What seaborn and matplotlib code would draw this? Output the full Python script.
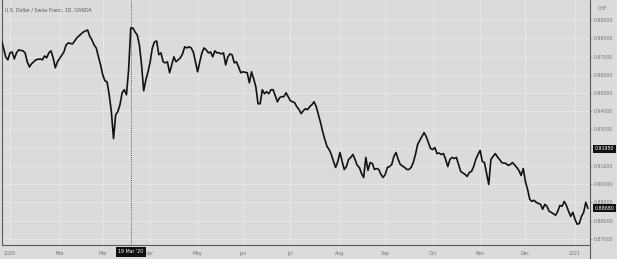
import numpy as np
import pandas as pd
import matplotlib
matplotlib.use("Agg")
import matplotlib.pyplot as plt
import seaborn as sns
from matplotlib.lines import Line2D

# ---------------- data (daily closes) ----------------
dates = [
    "2019-12-26", "2019-12-27", "2019-12-30", "2019-12-31",
    "2020-01-01", "2020-01-02", "2020-01-03", "2020-01-06", "2020-01-07", "2020-01-09",
    "2020-01-10", "2020-01-13", "2020-01-14", "2020-01-15", "2020-01-17", "2020-01-21",
    "2020-01-22", "2020-01-23", "2020-01-24", "2020-01-27", "2020-01-28", "2020-01-29",
    "2020-01-30", "2020-01-31",
    "2020-02-05", "2020-02-06", "2020-02-07", "2020-02-11", "2020-02-12", "2020-02-13",
    "2020-02-14", "2020-02-17", "2020-02-18", "2020-02-19", "2020-02-20", "2020-02-21",
    "2020-02-24", "2020-02-25", "2020-02-26", "2020-02-27", "2020-02-28",
    "2020-03-02", "2020-03-03", "2020-03-04", "2020-03-05", "2020-03-06", "2020-03-09",
    "2020-03-10", "2020-03-11", "2020-03-12", "2020-03-13", "2020-03-16", "2020-03-17",
    "2020-03-18", "2020-03-19", "2020-03-20", "2020-03-23", "2020-03-24", "2020-03-25",
    "2020-03-26", "2020-03-27", "2020-03-30", "2020-03-31",
    "2020-04-01", "2020-04-02", "2020-04-03", "2020-04-06", "2020-04-07", "2020-04-08",
    "2020-04-09", "2020-04-10", "2020-04-13", "2020-04-14", "2020-04-15", "2020-04-16",
    "2020-04-17", "2020-04-20", "2020-04-21", "2020-04-22", "2020-04-23", "2020-04-24",
    "2020-04-27", "2020-04-28", "2020-04-29", "2020-04-30",
    "2020-05-01", "2020-05-04", "2020-05-05", "2020-05-06", "2020-05-07", "2020-05-08",
    "2020-05-11", "2020-05-12", "2020-05-13", "2020-05-14", "2020-05-15", "2020-05-18",
    "2020-05-19", "2020-05-20", "2020-05-21", "2020-05-22", "2020-05-25", "2020-05-26",
    "2020-05-27", "2020-05-28", "2020-05-29",
    "2020-06-01", "2020-06-03", "2020-06-04", "2020-06-05", "2020-06-08", "2020-06-09",
    "2020-06-10", "2020-06-11", "2020-06-12", "2020-06-15", "2020-06-16", "2020-06-17",
    "2020-06-18", "2020-06-19", "2020-06-22", "2020-06-23", "2020-06-24", "2020-06-25",
    "2020-06-26", "2020-06-29", "2020-06-30",
    "2020-07-01", "2020-07-02", "2020-07-03", "2020-07-06", "2020-07-07", "2020-07-08",
    "2020-07-09", "2020-07-10", "2020-07-13", "2020-07-14", "2020-07-15", "2020-07-16",
    "2020-07-17", "2020-07-20", "2020-07-21", "2020-07-22", "2020-07-23", "2020-07-24",
    "2020-07-27", "2020-07-28", "2020-07-29", "2020-07-30", "2020-07-31",
    "2020-08-03", "2020-08-04", "2020-08-05", "2020-08-06", "2020-08-07", "2020-08-10",
    "2020-08-11", "2020-08-12", "2020-08-13", "2020-08-14", "2020-08-17", "2020-08-18",
    "2020-08-19", "2020-08-20", "2020-08-21", "2020-08-24", "2020-08-25", "2020-08-26",
    "2020-08-27", "2020-08-28", "2020-08-31",
    "2020-09-01", "2020-09-02", "2020-09-03", "2020-09-04", "2020-09-07", "2020-09-08",
    "2020-09-09", "2020-09-10", "2020-09-11", "2020-09-14", "2020-09-15", "2020-09-16",
    "2020-09-17", "2020-09-18", "2020-09-21", "2020-09-22", "2020-09-23", "2020-09-24",
    "2020-09-25", "2020-09-28", "2020-09-29", "2020-09-30",
    "2020-10-01", "2020-10-02", "2020-10-05", "2020-10-06", "2020-10-07", "2020-10-08",
    "2020-10-09", "2020-10-12", "2020-10-13", "2020-10-14", "2020-10-15", "2020-10-16",
    "2020-10-19", "2020-10-20", "2020-10-21", "2020-10-22", "2020-10-23", "2020-10-26",
    "2020-10-27", "2020-10-28", "2020-10-29", "2020-10-30",
    "2020-11-02", "2020-11-03", "2020-11-04", "2020-11-05", "2020-11-06", "2020-11-09",
    "2020-11-10", "2020-11-11", "2020-11-12", "2020-11-13", "2020-11-16", "2020-11-17",
    "2020-11-18", "2020-11-19", "2020-11-20", "2020-11-23", "2020-11-25", "2020-11-26",
    "2020-11-27", "2020-11-30",
    "2020-12-01", "2020-12-02", "2020-12-03", "2020-12-04", "2020-12-07", "2020-12-08",
    "2020-12-09", "2020-12-10", "2020-12-11", "2020-12-14", "2020-12-15", "2020-12-16",
    "2020-12-17", "2020-12-18", "2020-12-21", "2020-12-22", "2020-12-23", "2020-12-24",
    "2020-12-25", "2020-12-28", "2020-12-29", "2020-12-30", "2020-12-31",
    "2021-01-01", "2021-01-04", "2021-01-05", "2021-01-06", "2021-01-07", "2021-01-08",
    "2021-01-11",
]
closes = [
    0.9791, 0.9747, 0.9698, 0.9682,
    0.9720, 0.9725, 0.9687, 0.9720, 0.9736, 0.9731,
    0.9720, 0.9671, 0.9643, 0.9660, 0.9682, 0.9687,
    0.9682, 0.9703, 0.9693, 0.9720, 0.9731, 0.9693,
    0.9638, 0.9671,
    0.9725, 0.9763, 0.9774, 0.9769, 0.9785, 0.9802,
    0.9813, 0.9824, 0.9834, 0.9840, 0.9845, 0.9810,
    0.9791, 0.9763, 0.9747, 0.9698, 0.9654,
    0.9600, 0.9567, 0.9561, 0.9490, 0.9398, 0.9250,
    0.9381, 0.9398, 0.9436, 0.9501, 0.9518, 0.9490,
    0.9627, 0.9856, 0.9856, 0.9834, 0.9818, 0.9763,
    0.9654, 0.9512, 0.9572, 0.9616,
    0.9671, 0.9747, 0.9780, 0.9785, 0.9710, 0.9720,
    0.9671, 0.9665, 0.9671, 0.9611, 0.9654, 0.9698,
    0.9671, 0.9682, 0.9693, 0.9714, 0.9753, 0.9747,
    0.9753, 0.9747, 0.9725, 0.9671,
    0.9616, 0.9671, 0.9720, 0.9747, 0.9736, 0.9720,
    0.9725, 0.9698, 0.9731, 0.9720, 0.9720, 0.9714,
    0.9720, 0.9654, 0.9698, 0.9714, 0.9709, 0.9665,
    0.9671, 0.9643, 0.9611,
    0.9616, 0.9611, 0.9556, 0.9616, 0.9578, 0.9534,
    0.9441, 0.9441, 0.9518, 0.9496, 0.9507, 0.9496,
    0.9518, 0.9518, 0.9485, 0.9452, 0.9474, 0.9480,
    0.9480, 0.9501, 0.9480,
    0.9458, 0.9452, 0.9447, 0.9425, 0.9409, 0.9387,
    0.9403, 0.9414, 0.9409, 0.9425, 0.9436, 0.9452,
    0.9425, 0.9381, 0.9338, 0.9288, 0.9245, 0.9207,
    0.9190, 0.9163, 0.9125, 0.9092, 0.9125,
    0.9174, 0.9125, 0.9081, 0.9097, 0.9136, 0.9147,
    0.9163, 0.9136, 0.9103, 0.9092, 0.9059, 0.9037,
    0.9147, 0.9076, 0.9119, 0.9114, 0.9081, 0.9086,
    0.9081, 0.9054, 0.9037,
    0.9054, 0.9092, 0.9097, 0.9108, 0.9152, 0.9174,
    0.9136, 0.9108, 0.9100, 0.9092, 0.9081, 0.9081,
    0.9092, 0.9119, 0.9163, 0.9217, 0.9240, 0.9261,
    0.9283, 0.9261, 0.9228, 0.9196,
    0.9190, 0.9201, 0.9168, 0.9171, 0.9163, 0.9168,
    0.9136, 0.9097, 0.9136, 0.9147, 0.9141, 0.9147,
    0.9108, 0.9070, 0.9062, 0.9054, 0.9043, 0.9065,
    0.9070, 0.9097, 0.9136, 0.9163,
    0.9185, 0.9125, 0.9119, 0.9059, 0.8999, 0.9136,
    0.9152, 0.9168, 0.9150, 0.9136, 0.9119, 0.9116,
    0.9114, 0.9103, 0.9108, 0.9119, 0.9092, 0.9075,
    0.9048, 0.9086,
    0.9015, 0.8972, 0.8917, 0.8906, 0.8912, 0.8901,
    0.8895, 0.8890, 0.8863, 0.8890, 0.8879, 0.8852,
    0.8846, 0.8838, 0.8830, 0.8852, 0.8884, 0.8879,
    0.8906, 0.8884, 0.8852, 0.8824, 0.8846,
    0.8808, 0.8781, 0.8785, 0.8824, 0.8846, 0.8901,
    0.8868,
]
month_tick_dates = ["2020-01-01", "2020-02-03", "2020-03-02", "2020-04-01", "2020-05-01",
                    "2020-06-01", "2020-07-01", "2020-08-03", "2020-09-01", "2020-10-01",
                    "2020-11-02", "2020-12-01", "2021-01-01"]
month_tick_labels = ["2020", "Feb", "Mar", "Apr", "May", "Jun", "Jul", "Aug", "Sep",
                     "Oct", "Nov", "Dec", "2021"]
price_ticks = [0.99, 0.98, 0.97, 0.96, 0.95, 0.94, 0.93, 0.92, 0.91, 0.90, 0.89, 0.88, 0.87]
title = "U.S. Dollar / Swiss Franc, 1D, OANDA"
currency = "CHF"
cursor_date = "2020-03-19"
cursor_label = "19 Mar '20"
marker_price = 0.9195

# ---------------- style ----------------
sns.set_style("white")
plt.rcParams["font.family"] = ["DejaVu Sans"]

W, H = 617, 259
bg = "#dbdbdb"
grid_c = "#e6e6e6"
text_c = "#727272"
fs = 3.4

fig = plt.figure(figsize=(W / 100, H / 100), dpi=100, facecolor=bg)
ax = fig.add_axes([2 / W, 14 / H, 588 / W, 245 / H])
ax.set_facecolor(bg)

start = np.datetime64("2020-01-01")
def bpos(ds):
    return np.busday_count(start, pd.to_datetime(ds).values.astype("datetime64[D]"))

df = pd.DataFrame({"pos": bpos(dates), "close": closes})
sns.lineplot(data=df, x="pos", y="close", ax=ax, color="#121212", linewidth=1.2,
             zorder=5)

ax.set_xlim(-3.71, 268.95)
ax.set_ylim(0.86671, 1.00096)

# grid
xt = bpos(month_tick_dates)
for x in xt:
    ax.axvline(x, color=grid_c, lw=0.8, zorder=1)
for y in price_ticks:
    ax.axhline(y, color=grid_c, lw=0.8, zorder=1)

ax.set_xticks(xt)
ax.set_xticklabels(month_tick_labels, fontsize=fs, color=text_c)
ax.tick_params(axis="x", length=2, width=0.5, color="#666666", pad=2.0)
ax.yaxis.tick_right()
ax.set_yticks(price_ticks)
ax.set_yticklabels([f"{v:.5f}" for v in price_ticks], fontsize=fs, color=text_c)
ax.tick_params(axis="y", length=1.5, width=0.5, color="#888888", pad=1.5)
ax.set_xlabel("")
ax.set_ylabel("")

for s in ["top", "right"]:
    ax.spines[s].set_visible(False)
ax.spines["bottom"].set_color("#5a5a5a")
ax.spines["bottom"].set_linewidth(0.8)
ax.spines["left"].set_color("#5a5a5a")
ax.spines["left"].set_linewidth(0.8)

# right price-scale border
fig.add_artist(Line2D([590 / W, 590 / W], [0, 1], transform=fig.transFigure,
                      color="#5a5a5a", lw=0.8))

# cursor
cpos = bpos([cursor_date])[0]
ax.axvline(cpos, color="#333333", lw=0.6, ls=(0, (1, 1.5)), zorder=4)
ax.annotate(cursor_label, xy=(cpos, 0), xycoords=("data", "axes fraction"),
            xytext=(0, -5.0), textcoords="offset points", ha="center", va="center",
            fontsize=fs, color="white", annotation_clip=False,
            bbox=dict(boxstyle="square,pad=0.45", fc="#111111", ec="none"))

# price boxes on the scale
last_price = closes[-1]
for val in (marker_price, last_price):
    ax.annotate(f"{val:.5f}", xy=(1.0, val), xycoords=("axes fraction", "data"),
                xytext=(3.5, 0), textcoords="offset points", ha="left", va="center",
                fontsize=fs, color="white", annotation_clip=False, zorder=10,
                bbox=dict(boxstyle="square,pad=0.3", fc="#111111", ec="none"))

fig.text(5 / W, 1 - 10 / H, title, fontsize=fs, color="#555555", va="center")
fig.text(603 / W, 1 - 8 / H, currency, fontsize=fs, color=text_c, ha="center",
         va="center")

fig.savefig("out.png", dpi=100, facecolor=bg)
